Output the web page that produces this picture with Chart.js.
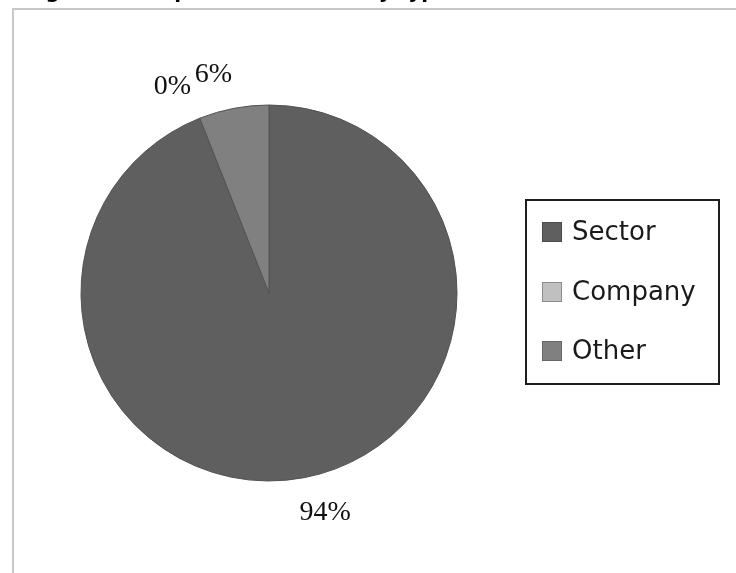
<!DOCTYPE html>
<html>
<head>
<meta charset="utf-8">
<script src="https://cdn.jsdelivr.net/npm/chart.js@4/dist/chart.umd.min.js"></script>
<style>
  html, body { margin: 0; padding: 0; background: #ffffff; overflow: hidden; }
  #wrap { position: relative; width: 736px; height: 573px; }
  canvas { display: block; }
</style>
</head>
<body>
<div id="wrap"><canvas id="c" width="736" height="573"></canvas></div>
<script>
// ---- data ----
const categories = ['Sector', 'Company', 'Other'];
const shares = [94, 0, 6];
const percentLabels = ['94%', '0%', '6%'];
const titleText = 'Figure 2: Responses received by type';

// ---- styles ----
const sliceColors = ['#5f5f5f', '#c0c0c0', '#808080'];
const swatchBorders = ['#4a4a4a', '#8c8c8c', '#666666'];

const framePlugin = {
  id: 'frame',
  beforeDraw(chart) {
    const ctx = chart.ctx;
    ctx.save();
    ctx.fillStyle = '#ffffff';
    ctx.fillRect(0, 0, chart.width, chart.height);
    // partially visible title (cut off at the top of the page)
    ctx.fillStyle = '#000000';
    ctx.font = 'bold 20px "DejaVu Sans"';
    ctx.textBaseline = 'alphabetic';
    ctx.textAlign = 'left';
    ctx.fillText(titleText, 25, -2);
    // light grey frame
    ctx.strokeStyle = '#c8c8c8';
    ctx.lineWidth = 2;
    ctx.beginPath();
    ctx.moveTo(13, chart.height + 2);
    ctx.lineTo(13, 9);
    ctx.lineTo(chart.width + 2, 9);
    ctx.stroke();
    ctx.restore();
  }
};

const pctLabelPlugin = {
  id: 'pctLabels',
  afterDatasetsDraw(chart) {
    const ctx = chart.ctx;
    const meta = chart.getDatasetMeta(0);
    ctx.save();
    ctx.font = '28px "Liberation Serif"';
    ctx.fillStyle = '#111111';
    ctx.textAlign = 'center';
    ctx.textBaseline = 'middle';
    const shift = -3.5 * Math.PI / 180;
    meta.data.forEach((arc, i) => {
      const p = arc.getProps(['x', 'y', 'startAngle', 'endAngle', 'outerRadius'], true);
      const mid = (p.startAngle + p.endAngle) / 2 + shift;
      const dx = Math.cos(mid), dy = Math.sin(mid);
      const txt = percentLabels[i];
      const w = ctx.measureText(txt).width;
      const h = 20;
      const ext = Math.abs(dx) * w / 2 + Math.abs(dy) * h / 2;
      const d = p.outerRadius + 23 + ext;
      ctx.fillText(txt, p.x + dx * d, p.y + dy * d);
    });
    ctx.restore();
  }
};

const legendBoxPlugin = {
  id: 'legendBox',
  afterDraw(chart) {
    const ctx = chart.ctx;
    const box = { x: 526, y: 200, w: 193, h: 184 };
    const sw = 20, swX = 542, firstY = 222, gap = 60, textX = 572;
    ctx.save();
    ctx.strokeStyle = '#1e1e1e';
    ctx.lineWidth = 2;
    ctx.strokeRect(box.x, box.y, box.w, box.h);
    ctx.font = '26px "DejaVu Sans"';
    ctx.textAlign = 'left';
    ctx.textBaseline = 'middle';
    chart.data.labels.forEach((lab, i) => {
      const y = firstY + gap * i - (i === 2 ? 1 : 0);
      ctx.fillStyle = chart.data.datasets[0].backgroundColor[i];
      ctx.fillRect(swX, y, sw, sw);
      ctx.strokeStyle = swatchBorders[i];
      ctx.lineWidth = 1;
      ctx.strokeRect(swX + 0.5, y + 0.5, sw - 1, sw - 1);
      ctx.fillStyle = '#1a1a1a';
      ctx.fillText(lab, textX, y + sw / 2 + 1);
    });
    ctx.restore();
  }
};

new Chart(document.getElementById('c'), {
  type: 'pie',
  data: {
    labels: categories,
    datasets: [{
      data: shares,
      backgroundColor: sliceColors,
      borderColor: '#525252',
      borderWidth: 1,
      hoverOffset: 0,
      offset: 0,
      radius: 188
    }]
  },
  options: {
    responsive: false,
    devicePixelRatio: 1,
    animation: false,
    layout: { padding: { left: 60, right: 258, top: 73, bottom: 60 } },
    plugins: {
      legend: { display: false },
      tooltip: { enabled: false },
      title: { display: false }
    }
  },
  plugins: [framePlugin, pctLabelPlugin, legendBoxPlugin]
});
</script>
</body>
</html>
